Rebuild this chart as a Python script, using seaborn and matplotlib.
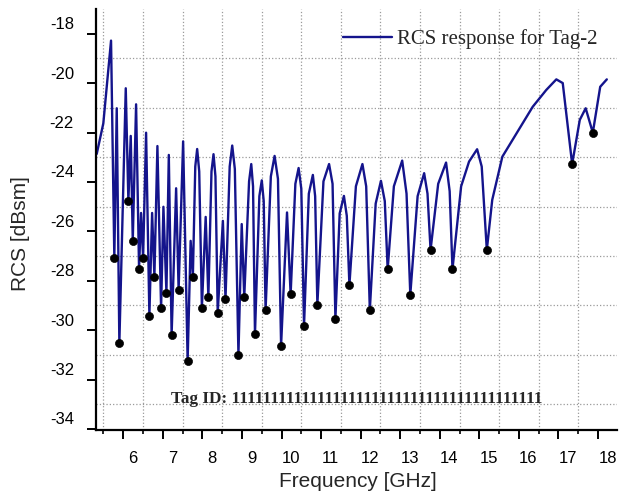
import numpy as np
import matplotlib
matplotlib.use("Agg")
import matplotlib.pyplot as plt
import matplotlib.transforms as mtransforms
import seaborn as sns

# -----------------------------
# Data (GHz, dBsm)
# -----------------------------
freq = [5.089, 5.256, 5.451, 5.534, 5.595, 5.661, 5.823, 5.889, 5.949, 6.000,
        6.084, 6.159, 6.210, 6.261, 6.337, 6.420, 6.489, 6.547, 6.623, 6.716,
        6.775, 6.851, 6.911, 6.982, 7.096, 7.159, 7.273, 7.387, 7.463, 7.519,
        7.58, 7.628, 7.68, 7.747, 7.843, 7.911, 7.99, 8.041, 8.09, 8.147,
        8.278, 8.344, 8.45, 8.514, 8.58, 8.671, 8.754, 8.818, 8.94, 8.995,
        9.04, 9.089, 9.20, 9.261, 9.31, 9.357, 9.49, 9.585, 9.67, 9.749,
        9.899, 9.990, 10.11, 10.192, 10.26, 10.329, 10.45, 10.552, 10.61, 10.666,
        10.82, 10.962, 11.05, 11.122, 11.23, 11.337, 11.41, 11.476, 11.64, 11.805,
        11.90, 11.992, 12.14, 12.273, 12.37, 12.443, 12.60, 12.810, 12.92, 13.015,
        13.20, 13.365, 13.45, 13.527, 13.72, 13.919, 14.01, 14.081, 14.30, 14.50,
        14.704, 14.82, 14.949, 15.086, 15.342, 16.109, 16.451, 16.706, 16.868, 17.106,
        17.299, 17.448, 17.628, 17.815, 17.982]
rcs = [-23.29, -22.05, -18.70, -27.49, -21.44, -30.96, -20.63, -25.19, -22.56, -26.80,
       -21.28, -27.94, -25.68, -27.49, -22.43, -29.84, -25.68, -28.26, -22.97, -29.54,
       -25.43, -28.91, -23.33, -30.62, -24.68, -28.80, -22.78, -31.66, -26.81, -28.26,
       -23.8, -23.09, -24.0, -29.51, -25.84, -29.09, -24.0, -23.30, -24.2, -29.72,
       -26.00, -29.17, -23.8, -22.95, -23.9, -31.42, -26.13, -29.09, -24.4, -23.70,
       -24.6, -30.59, -25.0, -24.36, -25.2, -29.62, -24.2, -23.37, -24.3, -31.05,
       -25.66, -28.98, -24.5, -23.86, -24.7, -30.24, -24.9, -24.14, -25.0, -29.39,
       -24.4, -23.70, -24.5, -29.97, -25.7, -24.99, -25.8, -28.60, -24.6, -23.70,
       -24.6, -29.61, -25.3, -24.38, -25.2, -27.96, -24.6, -23.56, -24.9, -28.99,
       -25.0, -24.07, -24.9, -27.18, -24.5, -23.64, -24.8, -27.96, -24.6, -23.6,
       -23.10, -23.8, -27.18, -25.15, -23.40, -21.38, -20.70, -20.27, -20.42, -23.70,
       -21.91, -21.44, -22.43, -20.57, -20.27]

# resonance dips marked with black dots
dip_freq = [5.534, 5.661, 5.889, 6.000, 6.159, 6.261, 6.420, 6.547, 6.716, 6.851,
            6.982, 7.159, 7.387, 7.519, 7.747, 7.911, 8.147, 8.344, 8.671, 8.818,
            9.089, 9.357, 9.749, 9.990, 10.329, 10.666, 11.122, 11.476, 11.992, 12.443,
            13.015, 13.527, 14.081, 14.949, 17.106, 17.628]
dip_rcs = [-27.49, -30.96, -25.19, -26.80, -27.94, -27.49, -29.84, -28.26, -29.54, -28.91,
           -30.62, -28.80, -31.66, -28.26, -29.51, -29.09, -29.72, -29.17, -31.42, -29.09,
           -30.59, -29.62, -31.05, -28.98, -30.24, -29.39, -29.97, -28.60, -29.61, -27.96,
           -28.99, -27.18, -27.96, -27.18, -23.70, -22.43]

x_labels = list(range(6, 19))
y_labels = list(range(-18, -35, -2))
tag_id = "1" * 40

# -----------------------------
# Style
# -----------------------------
sns.set_style("ticks")
plt.rcParams['font.family'] = ['Liberation Sans', 'DejaVu Sans']

fig = plt.figure(figsize=(6.19, 4.97), dpi=100)
ax = fig.add_axes([0.1551, 0.1348, 0.8417, 0.8471])

line_color = "#14148c"
sns.lineplot(x=freq, y=rcs, sort=False, estimator=None, color=line_color,
             linewidth=1.7, ax=ax, label="RCS response for Tag-2")
sns.scatterplot(x=dip_freq, y=dip_rcs, color="black", edgecolor="black",
                s=34, zorder=3, ax=ax, legend=False)

ax.set_xlim(5.071, 18.24)
ax.set_ylim(-34.47, -17.42)

# the tick/grid system of the original is offset from its labels
x_shift = -0.24
y_shift = -0.43
ax.set_xticks([v + x_shift for v in x_labels])
ax.set_xticklabels([str(v) for v in x_labels])
ax.set_xticks([v + 0.5 + x_shift for v in range(5, 18)], minor=True)
ax.set_yticks([v + y_shift for v in y_labels])
ax.set_yticklabels([str(v) for v in y_labels])
ax.set_yticks([v - 1 + y_shift + 0.01 for v in y_labels[:-1]], minor=True)

ax.tick_params(axis='both', which='major', direction='out', length=6.5,
               width=1.4, labelsize=12, colors='black')
ax.tick_params(axis='x', which='major', pad=8.6)
ax.tick_params(axis='y', which='major', pad=9.4)
ax.tick_params(axis='x', which='minor', direction='out', length=3, width=1.4)
ax.tick_params(axis='y', which='minor', length=0)

dx = mtransforms.ScaledTranslation(0.095, 0, fig.dpi_scale_trans)
for lab in ax.get_xticklabels():
    lab.set_transform(lab.get_transform() + dx)
dy = mtransforms.ScaledTranslation(0, 0.106, fig.dpi_scale_trans)
for lab in ax.get_yticklabels():
    lab.set_transform(lab.get_transform() + dy)

ax.grid(which='minor', linestyle=':', color='#9a9a9a', linewidth=0.9)
ax.grid(which='major', visible=False)

for side in ['top', 'right']:
    ax.spines[side].set_visible(False)
for side in ['left', 'bottom']:
    ax.spines[side].set_linewidth(1.6)
    ax.spines[side].set_color('black')

ax.set_xlabel("Frequency [GHz]", fontsize=15)
ax.set_ylabel("RCS [dBsm]", fontsize=15)
ax.xaxis.set_label_coords(0.503, -0.099)
ax.yaxis.set_label_coords(-0.1276, 0.467)

ax.text(6.96, -33.2, "Tag ID: " + tag_id, fontsize=12.4, fontweight='bold',
        family=['Liberation Serif', 'DejaVu Serif'], ha='left', va='center')

ax.legend(loc='center left', bbox_to_anchor=(0.4735, 0.9287), frameon=False,
          borderpad=0, borderaxespad=0, handlelength=2.35, handletextpad=0.25,
          prop={'family': 'Liberation Serif', 'size': 15})

plt.savefig("out.png", dpi=100)
plt.close()
